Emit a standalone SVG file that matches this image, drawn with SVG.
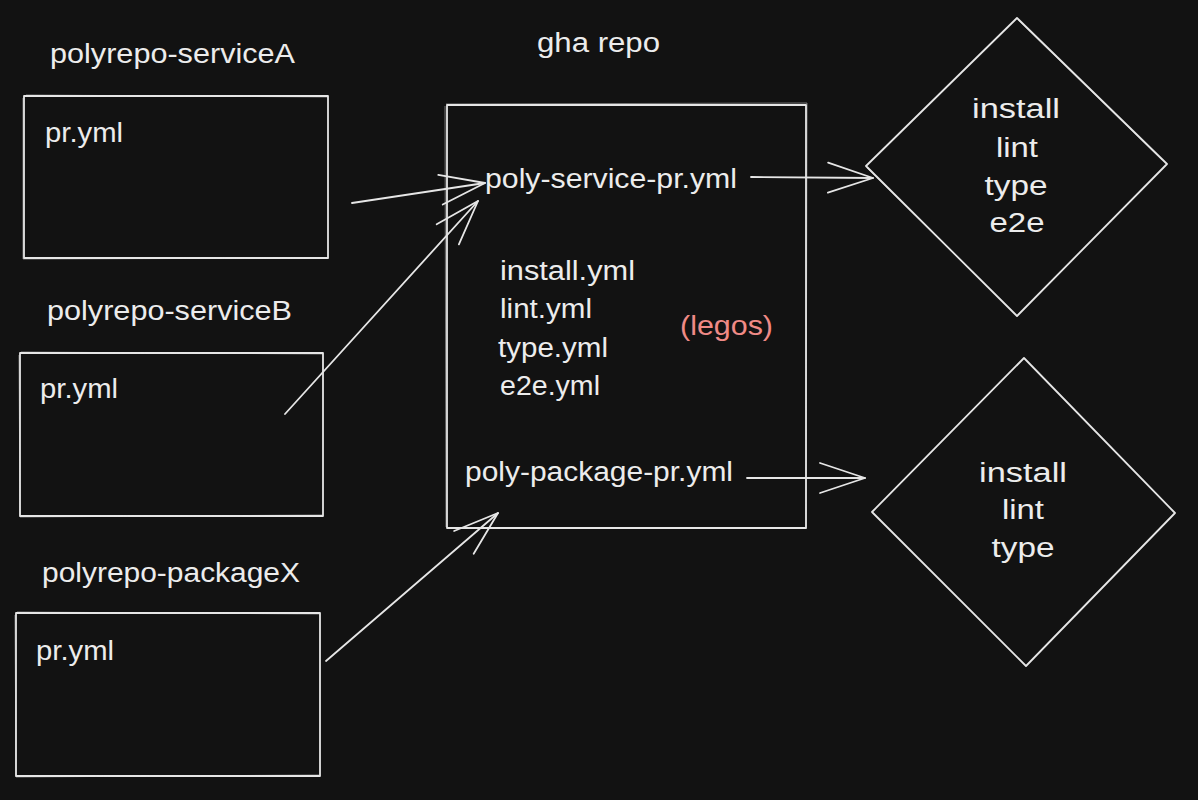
<svg xmlns="http://www.w3.org/2000/svg" width="1198" height="800" viewBox="0 0 1198 800">
<style>
.bg{fill:#121212}
.shape{fill:none;stroke:#e6e6e6;stroke-width:1.8;stroke-linejoin:round}
.ghost{fill:none;stroke:#e6e6e6;stroke-width:0.8;opacity:0.6}
.t{font-family:"Liberation Sans","DejaVu Sans",sans-serif;font-size:27px;fill:#ececec}
.c{text-anchor:middle}
.red{fill:#f08a86}
.conn{fill:none;stroke:#e6e6e6;stroke-width:1.8;stroke-linecap:round;marker-end:url(#head)}
</style>
<defs>
<marker id="head" markerUnits="userSpaceOnUse" viewBox="-50 -20 60 40" markerWidth="60" markerHeight="40" refX="0" refY="0" orient="auto" overflow="visible">
<path d="M-45,-15 L0,0 L-45,15" fill="none" stroke="#e6e6e6" stroke-width="1.8" stroke-linecap="round" stroke-linejoin="round"/>
</marker>
</defs>
<rect class="bg" x="0" y="0" width="1198" height="800"/>

<g id="serviceA">
<text class="t" x="50" y="63" textLength="245" lengthAdjust="spacingAndGlyphs">polyrepo-serviceA</text>
<rect class="shape" x="24" y="96" width="304" height="162"/>
<path class="ghost" d="M23,98 L23,259 L329,258 M26,95 L328,97"/>
<text class="t" x="45" y="142" textLength="78" lengthAdjust="spacingAndGlyphs">pr.yml</text>
</g>

<g id="serviceB">
<text class="t" x="47" y="320" textLength="245" lengthAdjust="spacingAndGlyphs">polyrepo-serviceB</text>
<rect class="shape" x="20" y="353" width="303" height="163"/>
<path class="ghost" d="M19,355 L20,517 L322,515 M21,352 L323,354"/>
<text class="t" x="40" y="398" textLength="78" lengthAdjust="spacingAndGlyphs">pr.yml</text>
</g>

<g id="packageX">
<text class="t" x="42" y="582" textLength="258" lengthAdjust="spacingAndGlyphs">polyrepo-packageX</text>
<rect class="shape" x="16" y="613" width="304" height="163"/>
<path class="ghost" d="M15,615 L16,777 L319,775 M17,612 L320,614"/>
<text class="t" x="36" y="660" textLength="78" lengthAdjust="spacingAndGlyphs">pr.yml</text>
</g>

<g id="gha-repo">
<text class="t" x="537" y="52" textLength="123" lengthAdjust="spacingAndGlyphs">gha repo</text>
<rect class="shape" x="447" y="105" width="359" height="423"/>
<path class="ghost" d="M446,104 L807,103 L806,529 M445,106 L446,527"/>
<text class="t" x="485" y="188" textLength="252" lengthAdjust="spacingAndGlyphs">poly-service-pr.yml</text>
<text class="t" x="500" y="280" textLength="135" lengthAdjust="spacingAndGlyphs">install.yml</text>
<text class="t" x="500" y="318" textLength="92" lengthAdjust="spacingAndGlyphs">lint.yml</text>
<text class="t" x="498" y="357" textLength="110" lengthAdjust="spacingAndGlyphs">type.yml</text>
<text class="t" x="500" y="395" textLength="100" lengthAdjust="spacingAndGlyphs">e2e.yml</text>
<text class="t red" x="680" y="335" textLength="93" lengthAdjust="spacingAndGlyphs">(legos)</text>
<text class="t" x="465" y="481" textLength="268" lengthAdjust="spacingAndGlyphs">poly-package-pr.yml</text>
</g>

<g id="steps-service">
<path class="shape" d="M1017,18 L1167,164 L1017,316 L866,166 Z"/>
<path class="ghost" d="M1018,20 L1162,160 M867,168 L1015,314"/>
<text class="t c" x="1016" y="118" textLength="88" lengthAdjust="spacingAndGlyphs">install</text>
<text class="t c" x="1017" y="157" textLength="42" lengthAdjust="spacingAndGlyphs">lint</text>
<text class="t c" x="1016" y="195" textLength="63" lengthAdjust="spacingAndGlyphs">type</text>
<text class="t c" x="1017" y="232" textLength="55" lengthAdjust="spacingAndGlyphs">e2e</text>
</g>

<g id="steps-package">
<path class="shape" d="M1024,358 L1175,513 L1026,666 L872,512 Z"/>
<path class="ghost" d="M1022,360 L874,510"/>
<text class="t c" x="1023" y="482" textLength="88" lengthAdjust="spacingAndGlyphs">install</text>
<text class="t c" x="1023" y="519" textLength="42" lengthAdjust="spacingAndGlyphs">lint</text>
<text class="t c" x="1023" y="557" textLength="63" lengthAdjust="spacingAndGlyphs">type</text>
</g>

<g id="connectors">
<path class="conn" d="M352,203 L485,183"/>
<path class="conn" d="M285,414 L478,201"/>
<path class="conn" d="M326,661 L498,513"/>
<path class="conn" d="M751,177 L873,178"/>
<path class="conn" d="M747,478 L865,478"/>
</g>
</svg>
